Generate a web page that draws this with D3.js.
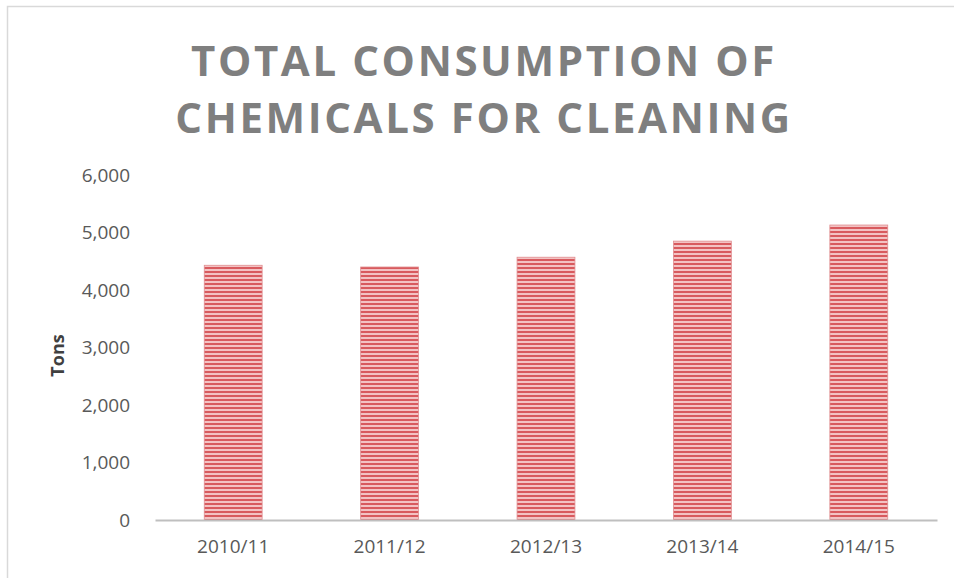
<!DOCTYPE html>
<html>
<head>
<meta charset="utf-8">
<script src="https://cdn.jsdelivr.net/npm/d3@7"></script>
<style>
  body { margin: 0; background: #fff; }
  text { font-family: "Open Sans", Calibri, sans-serif; }
</style>
</head>
<body>
<svg width="954" height="578"></svg>
<script>
var years = ["2010/11", "2011/12", "2012/13", "2013/14", "2014/15"];
var tons = [4430, 4400, 4570, 4850, 5130];
var yTicks = [0, 1000, 2000, 3000, 4000, 5000, 6000];
var titleLines = ["TOTAL CONSUMPTION OF", "CHEMICALS FOR CLEANING"];

var svg = d3.select("svg"),
    margin = {top: 175, right: 17, bottom: 58, left: 155},
    width = svg.attr("width") - margin.left - margin.right,
    height = svg.attr("height") - margin.top - margin.bottom;

// chart frame
svg.append("path")
    .attr("d", "M7.5,578 V6.5 H954")
    .attr("fill", "none")
    .attr("stroke", "#d9d9d9")
    .attr("stroke-width", 1.5);

// striped fill
var defs = svg.append("defs");
var pat = defs.append("pattern")
    .attr("id", "stripes")
    .attr("patternUnits", "userSpaceOnUse")
    .attr("width", 8)
    .attr("height", 4);
pat.append("rect").attr("width", 8).attr("height", 4).attr("fill", "#f3c2c3");
pat.append("rect").attr("width", 8).attr("height", 2).attr("fill", "#d85a5e");

var g = svg.append("g").attr("transform", "translate(" + margin.left + "," + margin.top + ")");

var x = d3.scaleBand().domain(years).range([0, width]).paddingInner(0.63).paddingOuter(0.315);
var y = d3.scaleLinear().domain([0, 6000]).range([height, 0]);

// title
svg.append("text")
    .attr("x", 484)
    .attr("text-anchor", "middle")
    .attr("fill", "#7f7f7f")
    .style("font-size", "42px")
    .style("font-weight", "bold")
    .style("letter-spacing", "2.6px")
    .selectAll("tspan")
    .data(titleLines)
    .enter().append("tspan")
      .attr("x", 484)
      .attr("y", function(d, i) { return 76 + i * 57; })
      .text(function(d) { return d; });

// bars
g.selectAll(".bar")
    .data(years)
  .enter().append("rect")
    .attr("class", "bar")
    .attr("x", function(d) { return x(d); })
    .attr("width", x.bandwidth())
    .attr("y", function(d, i) { return y(tons[i]); })
    .attr("height", function(d, i) { return height - y(tons[i]); })
    .attr("fill", "url(#stripes)")
    .attr("stroke", "#e08d90")
    .attr("stroke-width", 0.8);

// y axis
var yAxis = g.append("g")
    .call(d3.axisLeft(y).tickValues(yTicks).tickFormat(d3.format(",")).tickSize(0).tickPadding(25));
yAxis.select(".domain").remove();
yAxis.selectAll("text")
    .attr("fill", "#595959")
    .style("font-size", "19px")
    .style("font-family", "'Open Sans', sans-serif");

// x axis
var xAxis = g.append("g")
    .attr("transform", "translate(0," + height + ")")
    .call(d3.axisBottom(x).tickSize(0).tickPadding(20));
xAxis.select(".domain").attr("stroke", "#bfbfbf").attr("stroke-width", 2);
xAxis.selectAll("text")
    .attr("fill", "#595959")
    .style("font-size", "19px")
    .style("font-family", "'Open Sans', sans-serif");

// y label
g.append("text")
    .attr("transform", "rotate(-90)")
    .attr("x", -height / 2 - 8)
    .attr("y", -91)
    .attr("text-anchor", "middle")
    .attr("fill", "#404040")
    .style("font-size", "18px")
    .style("font-weight", "bold")
    .text("Tons");
</script>
</body>
</html>
